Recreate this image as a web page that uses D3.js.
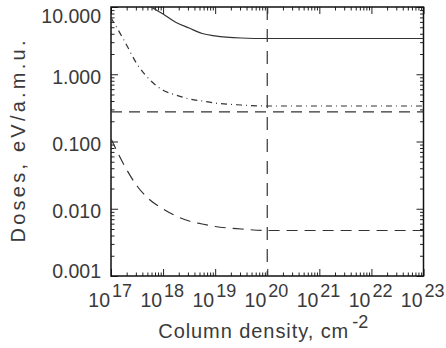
<!DOCTYPE html>
<html>
<head>
<meta charset="utf-8">
<script src="https://cdn.jsdelivr.net/npm/d3@7"></script>
<style>
	body { margin: 0; background: #fff; }
	#chart-area { width: 446px; height: 348px; }
	text { font-family: "Liberation Sans", Arial, sans-serif; fill: #3a3a3a; }
</style>
</head>
<body>
<div id="chart-area"></div>
<script>
// column density, cm^-2
const columnDensity = [1e17, 1.78e17, 3.16e17, 5.62e17, 1e18, 1.78e18, 3.16e18, 5.62e18, 1e19, 3.16e19, 1e20, 1e21, 1e22, 1e23];
// doses, eV/a.m.u.
const doseSolid   = [30, 22, 15, 10.3, 7.9, 5.9, 4.87, 4.04, 3.71, 3.46, 3.40, 3.40, 3.40, 3.40];
const doseDashDot = [6.9, 3.2, 1.42, 0.82, 0.58, 0.49, 0.43, 0.40, 0.373, 0.349, 0.337, 0.337, 0.337, 0.337];
const doseDashed  = [0.11, 0.0448, 0.0218, 0.0135, 0.0099, 0.0078, 0.00657, 0.00593, 0.00545, 0.0050, 0.00475, 0.00475, 0.00475, 0.00475];
// reference levels
const levelDose = 0.275;
const levelColumn = 1e20;

const xTicks = [1e17, 1e18, 1e19, 1e20, 1e21, 1e22, 1e23];
const xExponents = ['17', '18', '19', '20', '21', '22', '23'];
const yTicks = [10, 1, 0.1, 0.01, 0.001];

const margin = { top: 7, right: 22.5, bottom: 72, left: 111 };
const width = 446 - margin.left - margin.right;
const height = 348 - margin.top - margin.bottom;

const svg = d3.select('#chart-area')
	.append('svg')
	.attr('width', 446)
	.attr('height', 348);

const g = svg.append('g')
	.attr('transform', `translate(${margin.left}, ${margin.top})`);

// Scales
const x = d3.scaleLog().domain([1e17, 1e23]).range([0, width]);
const y = d3.scaleLog().domain([0.001, 10]).range([height, 0]);

// minor ticks 2..9 of each decade
const minorOf = (lo, hi) => {
	const out = [];
	for (let e = lo; e < hi; e++) {
		for (let m = 2; m <= 9; m++) out.push(m * Math.pow(10, e));
	}
	return out;
};
const xMinor = minorOf(17, 23);
const yMinor = minorOf(-3, 1);

const addAxis = (axis, tx, ty, cls) => {
	const a = g.append('g')
		.attr('class', cls)
		.attr('transform', `translate(${tx}, ${ty})`)
		.call(axis);
	a.select('.domain').remove();
	a.selectAll('line').attr('stroke', '#222').attr('stroke-width', 1);
	return a;
};

// Y axes (ticks inward)
const leftAxis = addAxis(d3.axisLeft(y).tickValues(yTicks).tickSize(-7).tickSizeOuter(0)
	.tickPadding(10).tickFormat(d3.format('.3f')), 0, 0, 'axis-left');
leftAxis.selectAll('.tick text')
	.style('font-size', '19.5px')
	.attr('dy', null)
	.attr('y', (d, i) => {
		if (i === 0) return 15.5;
		if (i === yTicks.length - 1) return 1;
		return 9;
	});
addAxis(d3.axisLeft(y).tickValues(yMinor).tickSize(-3.5).tickFormat(''), 0, 0, 'axis-left-minor');
addAxis(d3.axisRight(y).tickValues(yTicks).tickSize(-7).tickFormat(''), width, 0, 'axis-right');
addAxis(d3.axisRight(y).tickValues(yMinor).tickSize(-3.5).tickFormat(''), width, 0, 'axis-right-minor');

// X axes (ticks inward)
addAxis(d3.axisBottom(x).tickValues(xTicks).tickSize(-7).tickFormat(''), 0, height, 'axis-bottom');
addAxis(d3.axisBottom(x).tickValues(xMinor).tickSize(-3.5).tickFormat(''), 0, height, 'axis-bottom-minor');
addAxis(d3.axisTop(x).tickValues(xTicks).tickSize(-7).tickFormat(''), 0, 0, 'axis-top');
addAxis(d3.axisTop(x).tickValues(xMinor).tickSize(-3.5).tickFormat(''), 0, 0, 'axis-top-minor');

// X tick labels: "10" ending at the tick, exponent after it
const xLab = g.append('g').attr('class', 'x-labels');
xLab.selectAll('text.base')
	.data(xTicks)
	.enter()
		.append('text')
		.attr('class', 'base')
		.attr('x', (d) => x(d) - 1)
		.attr('y', height + 31)
		.attr('text-anchor', 'end')
		.style('font-size', '19.5px')
		.text('10');
xLab.selectAll('text.exp')
	.data(xTicks)
	.enter()
		.append('text')
		.attr('class', 'exp')
		.attr('x', (d) => x(d) + 1)
		.attr('y', height + 21)
		.attr('text-anchor', 'start')
		.style('font-size', '18px')
		.text((d, i) => xExponents[i]);

// Frame
g.append('rect')
	.attr('width', width)
	.attr('height', height)
	.attr('fill', 'none')
	.attr('stroke', '#111')
	.attr('stroke-width', 1.5);

// Clip
svg.append('defs').append('clipPath').attr('id', 'plot-clip')
	.append('rect').attr('width', width).attr('height', height);

const plot = g.append('g').attr('clip-path', 'url(#plot-clip)');

const line = d3.line()
	.x((d) => x(d[0]))
	.y((d) => y(d[1]))
	.curve(d3.curveMonotoneX);

const series = [
	{ values: doseSolid, dash: null },
	{ values: doseDashDot, dash: '6,4,1,4' },
	{ values: doseDashed, dash: '11,7' }
];

series.forEach((s) => {
	plot.append('path')
		.datum(columnDensity.map((c, i) => [c, s.values[i]]))
		.attr('d', line)
		.attr('fill', 'none')
		.attr('stroke', '#333')
		.attr('stroke-width', 1.2)
		.attr('stroke-dasharray', s.dash);
});

// horizontal dashed level
plot.append('path')
	.datum([[1e17, levelDose], [1e23, levelDose]])
	.attr('d', d3.line().x((d) => x(d[0])).y((d) => y(d[1])))
	.attr('fill', 'none')
	.attr('stroke', '#333')
	.attr('stroke-width', 1.2)
	.attr('stroke-dasharray', '11,7');

// vertical dashed level
plot.append('path')
	.datum([[levelColumn, 10], [levelColumn, 0.001]])
	.attr('d', d3.line().x((d) => x(d[0])).y((d) => y(d[1])))
	.attr('fill', 'none')
	.attr('stroke', '#333')
	.attr('stroke-width', 1.2)
	.attr('stroke-dasharray', '13,9');

// Axis titles
const cx = width / 2;
g.append('text')
	.attr('x', cx - 109)
	.attr('y', height + 62)
	.attr('textLength', 190)
	.attr('lengthAdjust', 'spacing')
	.style('font-size', '20px')
	.text('Column density, cm');
g.append('text')
	.attr('x', cx + 85)
	.attr('y', height + 52)
	.style('font-size', '18px')
	.text('-2');

g.append('text')
	.attr('transform', `translate(${25 - margin.left}, ${height / 2}) rotate(-90)`)
	.attr('text-anchor', 'middle')
	.attr('textLength', 202)
	.attr('lengthAdjust', 'spacing')
	.style('font-size', '20px')
	.text('Doses, eV/a.m.u.');
</script>
</body>
</html>
